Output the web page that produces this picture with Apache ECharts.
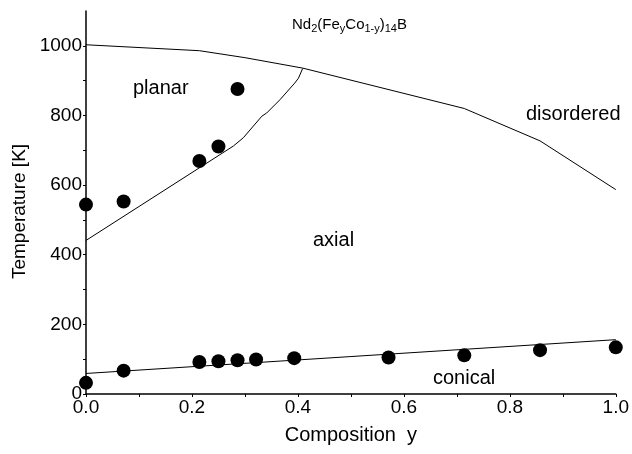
<!DOCTYPE html>
<html>
<head>
<meta charset="utf-8">
<script src="https://cdn.jsdelivr.net/npm/echarts@6/dist/echarts.min.js"></script>
<style>
  html, body { margin: 0; padding: 0; background: #fff; }
  #chart { width: 632px; height: 454px; }
</style>
</head>
<body>
<div id="chart"></div>
<script>
// measured points (composition y, temperature K)
let upperDots = [[0, 544], [0.071, 553], [0.214, 669], [0.25, 711], [0.286, 876]]
let lowerDots = [[0, 32], [0.071, 67], [0.214, 92], [0.25, 94], [0.286, 97], [0.321, 99],
    [0.393, 103], [0.571, 105], [0.714, 111], [0.857, 126], [1.0, 134]]

// phase boundaries
let disorderLine = [[0, 1003], [0.214, 986], [0.3, 966], [0.409, 936], [0.714, 820], [0.857, 727], [1.0, 587]]
let planarLine = [[0, 441], [0.278, 712], [0.297, 736], [0.332, 798], [0.341, 807], [0.366, 845],
    [0.394, 893], [0.401, 907], [0.409, 935]]
let conicalLine = [[0, 59], [1.0, 156]]

let xLabels = [0, 0.2, 0.4, 0.6, 0.8, 1.0]
let xTicks = [0, 0.1, 0.2, 0.3, 0.4, 0.5, 0.6, 0.7, 0.8, 0.9, 1.0]
let yLabels = [0, 200, 400, 600, 800, 1000]
let yTicks = [0, 100, 200, 300, 400, 500, 600, 700, 800, 900, 1000]

let font = 'Liberation Sans, Arial, sans-serif'
let myChart = echarts.init(document.getElementById('chart'))

let lineStyle = { color: '#000', width: 1 }
let dotStyle = { color: '#000', opacity: 1 }

let option = {
    animation: false,
    grid: { left: 86, right: 16, top: 11, bottom: 60 },
    xAxis: {
        type: 'value',
        min: 0,
        max: 1,
        name: 'Composition  y',
        nameLocation: 'middle',
        nameGap: 31,
        nameTextStyle: { color: '#000', fontSize: 20, fontFamily: font },
        axisLine: { lineStyle: { color: '#000', width: 1.5 } },
        axisTick: { length: 3, customValues: xTicks, lineStyle: { color: '#000' } },
        axisLabel: {
            customValues: xLabels,
            color: '#000', fontSize: 19, fontFamily: font, margin: 4,
            formatter: (v) => v.toFixed(1)
        },
        splitLine: { show: false }
    },
    yAxis: {
        type: 'value',
        min: 0,
        max: 1100,
        name: 'Temperature [K]',
        nameLocation: 'middle',
        nameGap: 47,
        nameTextStyle: { color: '#000', fontSize: 19, fontFamily: font, padding: [0, 18, 0, 0] },
        axisLine: { show: true, lineStyle: { color: '#000', width: 1.5 } },
        axisTick: { show: true, length: 3, customValues: yTicks, lineStyle: { color: '#000' } },
        axisLabel: {
            customValues: yLabels,
            color: '#000', fontSize: 19, fontFamily: font, margin: 4,
            formatter: (v) => String(v)
        },
        splitLine: { show: false }
    },
    graphic: [
        {
            type: 'text', left: 292, top: 17,
            style: {
                text: 'Nd{s|2}(Fe{s|y}Co{s|1-y}){s|14}B',
                fill: '#000', font: '15px ' + font,
                rich: {
                    s: { fontSize: 11, fontFamily: font, padding: [8, 0, 0, 0], fill: '#000' }
                }
            }
        },
        { type: 'text', left: 133, top: 78, style: { text: 'planar', fill: '#000', font: '20px ' + font } },
        { type: 'text', left: 526, top: 104, style: { text: 'disordered', fill: '#000', font: '20px ' + font } },
        { type: 'text', left: 313, top: 230, style: { text: 'axial', fill: '#000', font: '20px ' + font } },
        { type: 'text', left: 433, top: 368, style: { text: 'conical', fill: '#000', font: '20px ' + font } }
    ],
    series: [
        { type: 'line', data: disorderLine, symbol: 'none', lineStyle: lineStyle },
        { type: 'line', data: planarLine, symbol: 'none', lineStyle: lineStyle },
        { type: 'line', data: conicalLine, symbol: 'none', lineStyle: lineStyle },
        { type: 'scatter', data: upperDots, symbolSize: 14, itemStyle: dotStyle },
        { type: 'scatter', data: lowerDots, symbolSize: 14, itemStyle: dotStyle }
    ]
}

myChart.setOption(option)
</script>
</body>
</html>
